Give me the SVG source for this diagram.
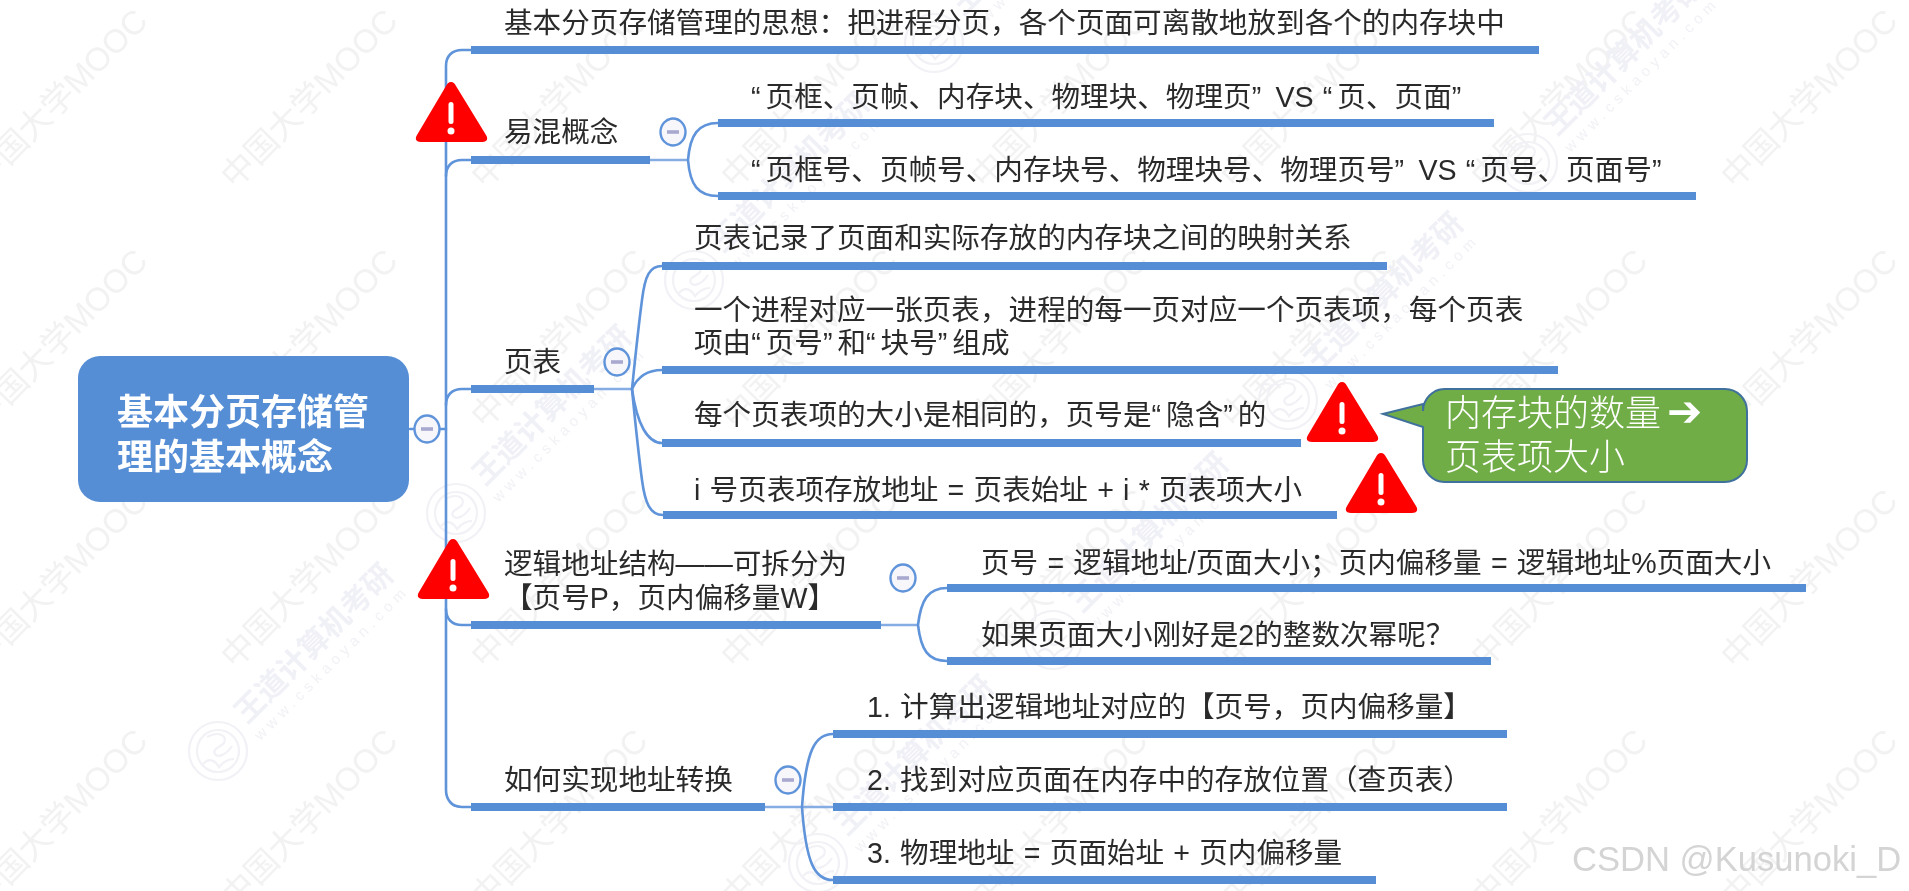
<svg xmlns="http://www.w3.org/2000/svg" xmlns:xlink="http://www.w3.org/1999/xlink" width="1909" height="891" viewBox="0 0 1909 891">
<style>
text{font-family:"Liberation Sans","Noto Sans CJK SC",sans-serif}
.t{font-size:28.6px;fill:#2b2b2b;word-spacing:1.3px}
.q{letter-spacing:5px}
.bar{fill:#568ed6}
.c{fill:none;stroke:#5f93da;stroke-width:2.6;stroke-linecap:round}
.l{fill:none;stroke:#86ace4;stroke-width:2.6}
.tg{fill:#f6f6fb;stroke:#5f93da;stroke-width:2.4}
.mn{fill:#a9a9cf}
.wm{font-size:33px;fill:#f2f2f3}
.wd{font-size:30px;font-weight:700;fill:#f0f0f7}
.wu{font-size:15px;letter-spacing:5px;fill:#f1f1f6}
.lg{fill:none;stroke:#f1f1f6;stroke-width:2.2}
</style>
<defs>
<filter id="soft" x="-2%" y="-2%" width="104%" height="104%"><feGaussianBlur stdDeviation="0.45"/></filter>
<g id="warn">
<path d="M35 0C32.500 0 31 2 30 4L1 53C-1.500 57 0 60 5 60H66C71 60 72.500 57 70 53L40 4C39 2 37.500 0 35 0Z" fill="#ff0000"/>
<rect x="32.500" y="20" width="5" height="22" rx="2.500" fill="#fff"/>
<circle cx="35" cy="49" r="3.500" fill="#fff"/>
</g>
<g id="tog"><ellipse cx="0" cy="0" rx="12.500" ry="13.500" class="tg"/><rect x="-6" y="-1.800" width="12" height="3.600" class="mn"/></g>
<g id="mooc"><text class="wm" transform="rotate(-45.500)">中国大学MOOC</text></g>
<g id="wd">
<circle cx="0" cy="0" r="29" class="lg"/><circle cx="0" cy="0" r="21" class="lg" stroke-width="1"/>
<path d="M-11 -14C0 -20 10 -16 6 -8C2 -3 -6 -3 -3 3C0 7 8 4 14 -5M-15 13C-8 5 -2 11 1 16C6 10 12 8 16 8" class="lg"/>
<text class="wd" x="39" y="2" transform="rotate(-45)">王道计算机考研</text>
<text class="wu" x="37" y="23" transform="rotate(-45)">www.cskaoyan.com</text>
</g>
</defs>
<rect width="1909" height="891" fill="#fff"/>
<g filter="url(#soft)">
<g id="watermarks">
<use xlink:href="#mooc" x="-15" y="190"/><use xlink:href="#mooc" x="235" y="190"/><use xlink:href="#mooc" x="485" y="190"/><use xlink:href="#mooc" x="735" y="190"/><use xlink:href="#mooc" x="985" y="190"/><use xlink:href="#mooc" x="1235" y="190"/><use xlink:href="#mooc" x="1485" y="190"/><use xlink:href="#mooc" x="1735" y="190"/>
<use xlink:href="#mooc" x="-15" y="430"/><use xlink:href="#mooc" x="235" y="430"/><use xlink:href="#mooc" x="485" y="430"/><use xlink:href="#mooc" x="735" y="430"/><use xlink:href="#mooc" x="985" y="430"/><use xlink:href="#mooc" x="1235" y="430"/><use xlink:href="#mooc" x="1485" y="430"/><use xlink:href="#mooc" x="1735" y="430"/>
<use xlink:href="#mooc" x="-15" y="670"/><use xlink:href="#mooc" x="235" y="670"/><use xlink:href="#mooc" x="485" y="670"/><use xlink:href="#mooc" x="735" y="670"/><use xlink:href="#mooc" x="985" y="670"/><use xlink:href="#mooc" x="1235" y="670"/><use xlink:href="#mooc" x="1485" y="670"/><use xlink:href="#mooc" x="1735" y="670"/>
<use xlink:href="#mooc" x="-15" y="910"/><use xlink:href="#mooc" x="235" y="910"/><use xlink:href="#mooc" x="485" y="910"/><use xlink:href="#mooc" x="735" y="910"/><use xlink:href="#mooc" x="985" y="910"/><use xlink:href="#mooc" x="1235" y="910"/><use xlink:href="#mooc" x="1485" y="910"/><use xlink:href="#mooc" x="1735" y="910"/>
<use xlink:href="#wd" x="218" y="751"/><use xlink:href="#wd" x="456" y="513"/><use xlink:href="#wd" x="694" y="280"/><use xlink:href="#wd" x="934" y="43"/>
<use xlink:href="#wd" x="818" y="863"/><use xlink:href="#wd" x="1053" y="640"/><use xlink:href="#wd" x="1288" y="400"/><use xlink:href="#wd" x="1528" y="163"/>
</g>
<g id="connectors">
<path class="c" d="M471 50H462C452 50 446 56 446 66V790C446 800 452 807 462 807H471"/>
<path class="c" d="M446 176C446 166 452 160 462 160H471"/>
<path class="c" d="M446 405C446 395 452 389 462 389H471"/>
<path class="c" d="M446 609C446 619 452 625 462 625H471"/>
<path class="c" d="M410 429H414M440 429H446"/>
<path class="l" d="M650 160H688"/>
<path class="c" d="M718 123C698 123 690 135 688 160C690 185 698 196 718 196"/>
<path class="l" d="M594 389H632"/>
<path class="c" d="M662 266C650 266 645 275 642 300C638 330 635 360 632 389C635 420 638 450 642 480C645 503 650 515 663 515"/>
<path class="c" d="M662 370C648 370 638 376 632 389C637 425 648 443 662 443"/>
<path class="l" d="M881 625H918"/>
<path class="c" d="M947 588C928 588 921 600 918 625C921 650 928 661 947 661"/>
<path class="l" d="M765 807H833"/>
<path class="c" d="M833 734C815 734 806 750 802 807C806 864 815 880 833 880"/>
</g>
<g id="root">
<rect x="78" y="356" width="331" height="146" rx="22" fill="#568ed6"/>
<text x="117" y="425" font-size="36" font-weight="700" fill="#fff">基本分页存储管</text>
<text x="117" y="470" font-size="36" font-weight="700" fill="#fff">理的基本概念</text>
<use xlink:href="#tog" x="427" y="429"/>
</g>
<g id="n1"><rect class="bar" x="471" y="46" width="1068" height="8"/><text class="t" x="504" y="33">基本分页存储管理的思想：把进程分页，各个页面可离散地放到各个的内存块中</text></g>
<g id="n2"><rect class="bar" x="471" y="156" width="179" height="8"/><text class="t" x="504" y="142">易混概念</text><use xlink:href="#warn" x="416" y="82"/><use xlink:href="#tog" x="673" y="132"/></g>
<g id="n2a"><rect class="bar" x="718" y="119" width="776" height="8"/><text class="t" x="751" y="107"><tspan class="q">“</tspan>页框、页帧、内存块、物理块、物理页<tspan class="q">”</tspan> VS <tspan class="q">“</tspan>页、页面<tspan class="q">”</tspan></text></g>
<g id="n2b"><rect class="bar" x="718" y="192" width="978" height="8"/><text class="t" x="751" y="180"><tspan class="q">“</tspan>页框号、页帧号、内存块号、物理块号、物理页号<tspan class="q">”</tspan> VS <tspan class="q">“</tspan>页号、页面号<tspan class="q">”</tspan></text></g>
<g id="n3"><rect class="bar" x="471" y="385" width="123" height="8"/><text class="t" x="504" y="372">页表</text><use xlink:href="#tog" x="617" y="362"/></g>
<g id="n3a"><rect class="bar" x="662" y="262" width="725" height="8"/><text class="t" x="694" y="248">页表记录了页面和实际存放的内存块之间的映射关系</text></g>
<g id="n3b"><rect class="bar" x="662" y="366" width="896" height="8"/><text class="t" x="694" y="320">一个进程对应一张页表，进程的每一页对应一个页表项，每个页表</text><text class="t" x="694" y="353">项由<tspan class="q">“</tspan>页号<tspan class="q">”</tspan>和<tspan class="q">“</tspan>块号<tspan class="q">”</tspan>组成</text></g>
<g id="n3c"><rect class="bar" x="662" y="439" width="639" height="8"/><text class="t" x="694" y="425">每个页表项的大小是相同的，页号是<tspan class="q">“</tspan>隐含<tspan class="q">”</tspan>的</text><use xlink:href="#warn" x="1307" y="382"/></g>
<g id="n3d"><rect class="bar" x="663" y="511" width="674" height="8"/><text class="t" x="694" y="500">i 号页表项存放地址 = 页表始址 + i * 页表项大小</text><use xlink:href="#warn" x="1346" y="453"/></g>
<g id="callout">
<path d="M1445 389H1725A22 22 0 0 1 1747 411V460A22 22 0 0 1 1725 482H1445A22 22 0 0 1 1423 460V427L1383 414L1423 404V411A22 22 0 0 1 1445 389Z" fill="#70ad47" stroke="#41719c" stroke-width="2"/>
<text x="1445" y="426" font-size="36" fill="#fff" font-weight="300">内存块的数量<tspan x="1667" y="426" font-family="DejaVu Sans" font-weight="700" font-size="42">➔</tspan></text>
<text x="1445" y="470" font-size="36" fill="#fff" font-weight="300">页表项大小</text>
</g>
<g id="n4"><rect class="bar" x="471" y="621" width="410" height="8"/><text class="t" x="504" y="574">逻辑地址结构——可拆分为</text><text class="t" x="504" y="608">【页号P，页内偏移量W】</text><use xlink:href="#warn" x="418" y="539"/><use xlink:href="#tog" x="903" y="578"/></g>
<g id="n4a"><rect class="bar" x="947" y="584" width="859" height="8"/><text class="t" x="981" y="573">页号 = 逻辑地址/页面大小；页内偏移量 = 逻辑地址%页面大小</text></g>
<g id="n4b"><rect class="bar" x="947" y="657" width="544" height="8"/><text class="t" x="981" y="645">如果页面大小刚好是2的整数次幂呢？</text></g>
<g id="n5"><rect class="bar" x="471" y="803" width="294" height="8"/><text class="t" x="504" y="790">如何实现地址转换</text><use xlink:href="#tog" x="788" y="780"/></g>
<g id="n5a"><rect class="bar" x="833" y="730" width="674" height="8"/><text class="t" x="867" y="717">1. 计算出逻辑地址对应的【页号，页内偏移量】</text></g>
<g id="n5b"><rect class="bar" x="833" y="803" width="674" height="8"/><text class="t" x="867" y="790">2. 找到对应页面在内存中的存放位置（查页表）</text></g>
<g id="n5c"><rect class="bar" x="833" y="876" width="543" height="8"/><text class="t" x="867" y="863">3. 物理地址 = 页面始址 + 页内偏移量</text></g>
<text x="1572" y="871" font-size="34.600" fill="#d4d4d4">CSDN @Kusunoki_D</text>
</g>
</svg>
